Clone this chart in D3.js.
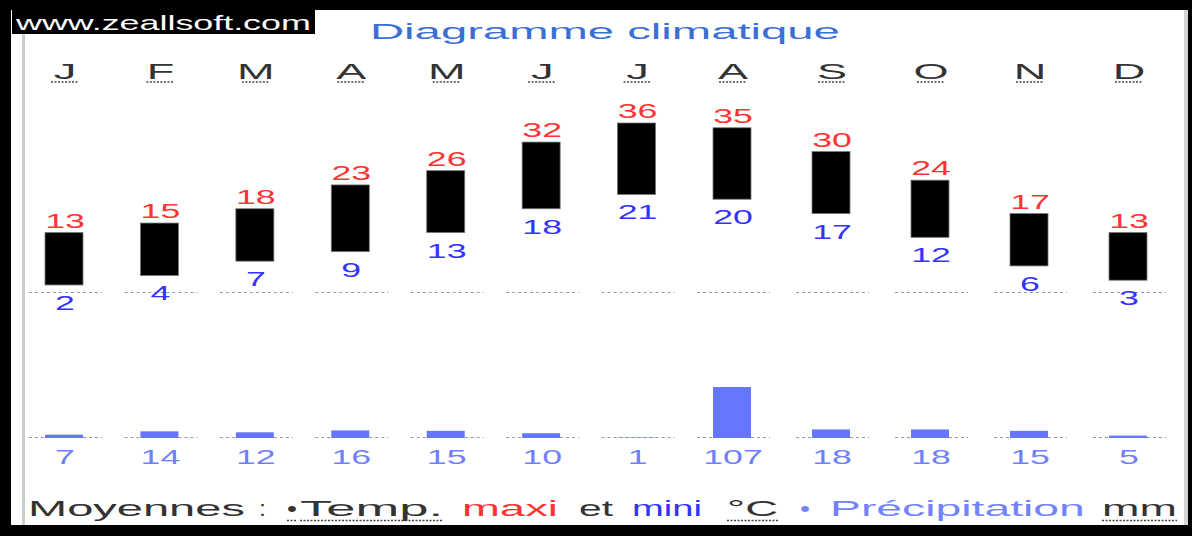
<!DOCTYPE html>
<html>
<head>
<meta charset="utf-8">
<script src="https://cdn.jsdelivr.net/npm/d3@7"></script>
<style>
  html, body { margin: 0; padding: 0; background: #fff; }
  svg { display: block; font-family: "Liberation Sans", Arial, sans-serif; }
</style>
</head>
<body>
<svg id="chart" width="1192" height="536"></svg>
<script>
// Monthly climate averages
const months  = ["J", "F", "M", "A", "M", "J", "J", "A", "S", "O", "N", "D"];
const tempMax = [13, 15, 18, 23, 26, 32, 36, 35, 30, 24, 17, 13];
const tempMin = [2, 4, 7, 9, 13, 18, 21, 20, 17, 12, 6, 3];
const precip  = [7, 14, 12, 16, 15, 10, 1, 107, 18, 18, 15, 5];

const titleText = "Diagramme climatique";
const siteText  = "www.zeallsoft.com";

// Legend pieces: text, colour, horizontal extent, dotted underline
const legendParts = [
  { text: "Moyennes", color: "#333", x0: 28,  x1: 245,  under: false },
  { text: ":",        color: "#333", x0: 259, x1: 266,  under: false },
  { text: "•",        color: "#333", x0: 287, x1: 297,  under: true  },
  { text: "Temp.",    color: "#333", x0: 300, x1: 443,  under: true  },
  { text: "maxi",     color: "#ff3333", x0: 462, x1: 558, under: false },
  { text: "et",       color: "#333", x0: 579, x1: 613,  under: false },
  { text: "mini",     color: "#3333ff", x0: 632, x1: 702, under: false },
  { text: "°C",       color: "#333", x0: 727, x1: 778,  under: true  },
  { text: "•",        color: "#7383ff", x0: 800, x1: 810, under: false },
  { text: "Précipitation", color: "#7383ff", x0: 830, x1: 1085, under: false },
  { text: "mm",       color: "#333", x0: 1102, x1: 1177, under: true  }
];

const W = 1192, H = 536;
const svg = d3.select("#chart");

// Frame
svg.append("rect").attr("width", W).attr("height", H).attr("fill", "#000");
svg.append("rect").attr("x", 11).attr("y", 10).attr("width", 1177).attr("height", 515).attr("fill", "#fff");
svg.append("rect").attr("x", 22).attr("y", 10).attr("width", 3).attr("height", 515).attr("fill", "#cccccc");
svg.append("rect").attr("x", 1184).attr("y", 10).attr("width", 4).attr("height", 515).attr("fill", "#d4d4d4");

// Column positions (month index -> centre)
const x = d3.scaleLinear().domain([0, 7, 11]).range([64, 732, 1128]);
const barW = 38;
const yT = d3.scaleLinear().domain([0, 36]).range([294.5, 123]);
const yP = d3.scaleLinear().domain([0, 107]).range([438, 387]);
const idx = d3.range(months.length);

// Text horizontally stretched by a factor
function stretchText(g, str, tx, ty, sx, opts) {
  return g.append("text")
    .attr("transform", `translate(${tx},${ty}) scale(${sx},1)`)
    .attr("text-anchor", opts.anchor || "middle")
    .attr("font-size", opts.size)
    .attr("fill", opts.color)
    .text(str);
}
// Text fitted between two x positions
function fitText(g, str, x0, x1, ty, opts) {
  const t = g.append("text")
    .attr("font-size", opts.size)
    .attr("fill", opts.color)
    .text(str);
  const len = t.node().getComputedTextLength();
  const sx = (x1 - x0) / len;
  t.attr("transform", `translate(${x0},${ty}) scale(${sx},1)`);
  return t;
}

// Site badge
svg.append("rect").attr("x", 12).attr("y", 10).attr("width", 303).attr("height", 24).attr("fill", "#000");
fitText(svg, siteText, 16, 311, 30, { size: 21, color: "#fff" });

// Title
fitText(svg, titleText, 370, 840, 39, { size: 22, color: "#3a6fd6" });

// Month header
const head = svg.append("g");
idx.forEach(i => {
  stretchText(head, months[i], x(i) + 1, 79, 2.05, { size: 22, color: "#333" });
});
head.selectAll("line").data(idx).join("line")
  .attr("x1", i => x(i) - 13).attr("x2", i => x(i) + 15)
  .attr("y1", 82).attr("y2", 82)
  .attr("stroke", "#444").attr("stroke-width", 1.5).attr("stroke-dasharray", "2,1.5");

// Dotted baselines
const dash = svg.append("g").attr("stroke", "#999").attr("stroke-width", 1).attr("stroke-dasharray", "3,3");
[292.5, 437.5].forEach(yy => {
  dash.selectAll(null).data(idx).join("line")
    .attr("x1", i => x(i) - 35).attr("x2", i => x(i) + 38)
    .attr("y1", yy).attr("y2", yy);
});

// Temperature range bars
svg.append("g").selectAll("rect").data(idx).join("rect")
  .attr("x", i => x(i) - barW / 2)
  .attr("y", i => yT(tempMax[i]))
  .attr("width", barW)
  .attr("height", i => yT(tempMin[i]) - yT(tempMax[i]))
  .attr("fill", "#000")
  .attr("stroke", "#777").attr("stroke-width", 0.8);

const numSx = 1.7, numSize = 21;
const lab = svg.append("g");
idx.forEach(i => {
  stretchText(lab, String(tempMax[i]), x(i) + 1, yT(tempMax[i]) - 5, numSx, { size: numSize, color: "#ff3333" });
  stretchText(lab, String(tempMin[i]), x(i) + 1, yT(tempMin[i]) + 25, numSx, { size: numSize, color: "#3333ff" });
  stretchText(lab, String(precip[i]), x(i) + 1, 464, numSx, { size: numSize, color: "#6f7fff" });
});

// Precipitation bars
svg.append("g").selectAll("rect").data(idx).join("rect")
  .attr("x", i => x(i) - barW / 2)
  .attr("y", i => yP(precip[i]))
  .attr("width", barW)
  .attr("height", i => yP(0) - yP(precip[i]))
  .attr("fill", "#6677ff");

// Legend line
const leg = svg.append("g");
legendParts.forEach(p => {
  fitText(leg, p.text, p.x0, p.x1, 516, { size: 22, color: p.color });
  if (p.under) {
    leg.append("line")
      .attr("x1", p.x0).attr("x2", p.x1)
      .attr("y1", 520.5).attr("y2", 520.5)
      .attr("stroke", "#444").attr("stroke-width", 1.5).attr("stroke-dasharray", "2,1.5");
  }
});
</script>
</body>
</html>
